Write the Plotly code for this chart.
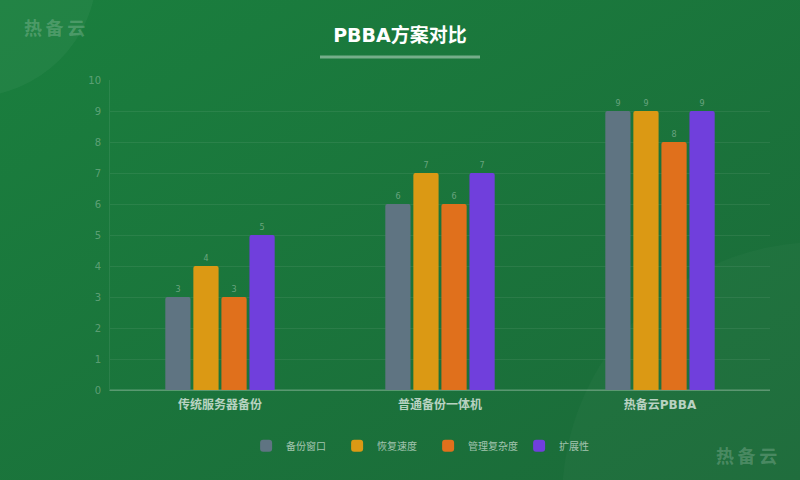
import base64
import plotly.graph_objects as go

categories = ['传统服务器备份', '普通备份一体机', '热备云PBBA']
series_names = ['备份窗口', '恢复速度', '管理复杂度', '扩展性']
backup_window = [3, 6, 9]
restore_speed = [4, 7, 9]
mgmt_complexity = [3, 6, 8]
scalability = [5, 7, 9]
y_ticks = list(range(0, 11))

values = [backup_window, restore_speed, mgmt_complexity, scalability]
colors = ['#5f7482', '#db9914', '#e0701c', '#703fdc']

# background: gradient + soft circles, as an svg data uri
svg = '''<svg xmlns="http://www.w3.org/2000/svg" width="800" height="480">
<defs><linearGradient id="g" x1="0" y1="0" x2="1" y2="1">
<stop offset="0" stop-color="#1a7f3e"/><stop offset="1" stop-color="#1b6a39"/>
</linearGradient></defs>
<rect width="800" height="480" fill="url(#g)"/>
<circle cx="-30" cy="-30" r="127" fill="#ffffff" fill-opacity="0.04"/>
<circle cx="820" cy="500" r="258" fill="#ffffff" fill-opacity="0.025"/>
</svg>'''
bg = 'data:image/svg+xml;base64,' + base64.b64encode(svg.encode()).decode()

# plot area in px: x 110..770, y 80..390
PW, PH = 660, 310

fig = go.Figure()
for name, vals, c in zip(series_names, values, colors):
    fig.add_trace(go.Bar(
        x=categories, y=vals, name=name,
        marker=dict(color=c, line=dict(width=0)),
        text=vals, textposition='outside',
        textfont=dict(size=8, color='rgba(255,255,255,0.35)'),
        cliponaxis=False,
    ))

fig.update_layout(
    width=800, height=480,
    margin=dict(l=110, r=30, t=80, b=90),
    paper_bgcolor='#1a7a3c',
    plot_bgcolor='rgba(0,0,0,0)',
    font=dict(family='DejaVu Sans, Noto Sans CJK SC, sans-serif'),
    barmode='group', bargap=0.49, bargroupgap=0.1,
    barcornerradius=2,
    title=dict(text='<b>PBBA方案对比</b>', x=0.5, xanchor='center',
               y=0.927, yanchor='middle',
               font=dict(size=19, color='white')),
    showlegend=True,
    legend=dict(orientation='h', x=0.482, xanchor='center', y=-0.18, yanchor='middle',
                bgcolor='rgba(0,0,0,0)',
                font=dict(size=10, color='rgba(255,255,255,0.6)'),
                itemwidth=30, traceorder='normal', entrywidth=46),
    xaxis=dict(showgrid=False, showline=True, linecolor='rgba(255,255,255,0.15)',
               ticks='', tickfont=dict(size=12, color='rgba(255,255,255,0.7)'),
               ticklabelstandoff=4),
    yaxis=dict(range=[0, 10], tickvals=y_ticks, showgrid=True,
               gridcolor='rgba(255,255,255,0.07)', zeroline=True,
               zerolinecolor='rgba(255,255,255,0.15)',
               showline=True, linecolor='rgba(255,255,255,0.08)',
               tickfont=dict(size=10, color='rgba(255,255,255,0.3)'),
               ticklabelstandoff=6),
    images=[dict(source=bg, xref='paper', yref='paper',
                 x=-110 / PW, y=(390) / PH, sizex=800 / PW, sizey=480 / PH,
                 xanchor='left', yanchor='top', layer='below', sizing='stretch')],
    shapes=[dict(type='line', xref='paper', yref='paper',
                 x0=(320 - 110) / PW, x1=(480 - 110) / PW,
                 y0=(390 - 57) / PH, y1=(390 - 57) / PH,
                 line=dict(color='rgba(255,255,255,0.4)', width=3))],
    annotations=[
        dict(text='<b>热\u2009备\u2009云</b>', xref='paper', yref='paper',
             x=(22 - 110) / PW, y=(390 - 28) / PH, xanchor='left', yanchor='middle',
             showarrow=False, font=dict(size=18, color='rgba(255,255,255,0.2)')),
        dict(text='<b>热\u2009备\u2009云</b>', xref='paper', yref='paper',
             x=(779 - 110) / PW, y=(390 - 456) / PH, xanchor='right', yanchor='middle',
             showarrow=False, font=dict(size=18, color='rgba(255,255,255,0.2)')),
    ],
)

# bold category labels
fig.update_xaxes(tickvals=categories, ticktext=['<b>%s</b>' % c for c in categories])

fig.write_html('out.html', config={'displayModeBar': False},
               post_script="document.body.style.margin='0';")
